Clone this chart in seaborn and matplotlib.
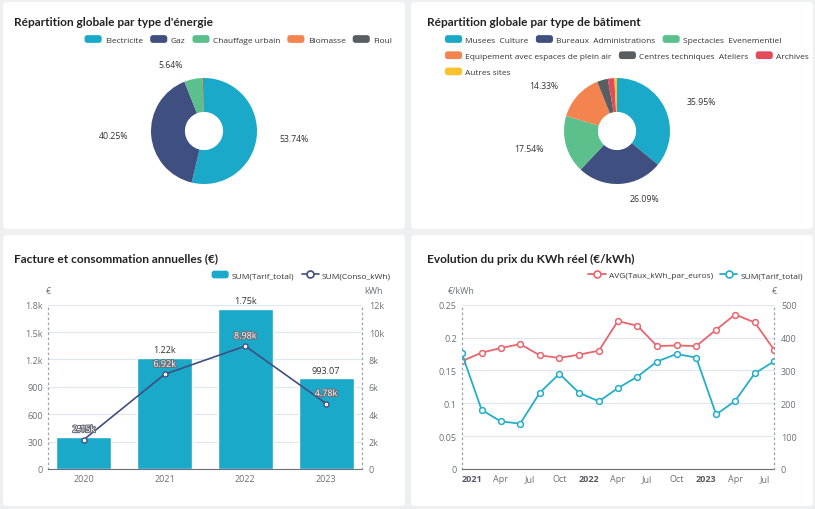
import numpy as np
import pandas as pd
import matplotlib
matplotlib.use("Agg")
import matplotlib.pyplot as plt
import matplotlib.dates as mdates
import matplotlib.patheffects as pe
from matplotlib.patches import FancyBboxPatch, Patch
from matplotlib.lines import Line2D
from matplotlib.legend_handler import HandlerPatch
from matplotlib.ticker import FixedLocator, FuncFormatter
import seaborn as sns

# ---------------- data ----------------
energy_labels = ["Electricite", "Gaz", "Chauffage urbain", "Biomasse", "Fioul"]
energy_pct = [53.74, 40.25, 5.64, 0.12, 0.25]
energy_colors = ["#1ba9c9", "#3f4f7f", "#5bc08b", "#f3844f", "#595e62"]

building_labels = ["Musees  Culture", "Bureaux  Administrations", "Spectacles  Evenementiel",
                   "Equipement avec espaces de plein air", "Centres techniques  Ateliers",
                   "Archives", "Autres sites"]
building_pct = [35.95, 26.09, 17.54, 14.33, 3.30, 2.00, 0.79]
building_colors = ["#1ba9c9", "#3f4f7f", "#5bc08b", "#f3844f", "#595e62", "#e24a5d", "#fbc22c"]

years = ["2020", "2021", "2022", "2023"]
tarif_year = [351, 1220, 1750, 993.07]
conso_year = [2150, 6920, 8980, 4780]
tarif_year_labels = ["351", "1.22k", "1.75k", "993.07"]
conso_year_labels = ["2.15k", "6.92k", "8.98k", "4.78k"]

months = ["2020-12-01", "2021-02-01", "2021-04-01", "2021-06-01", "2021-08-01", "2021-10-01",
          "2021-12-01", "2022-02-01", "2022-04-01", "2022-06-01", "2022-08-01", "2022-10-01",
          "2022-12-01", "2023-02-01", "2023-04-01", "2023-06-01", "2023-08-01"]
taux_kwh = [0.164, 0.177, 0.184, 0.190, 0.173, 0.169, 0.174, 0.180, 0.225, 0.218,
            0.187, 0.188, 0.187, 0.212, 0.235, 0.223, 0.181]
tarif_month = [353, 180, 145, 138, 232, 290, 232, 206, 246, 281, 327, 350, 339, 166, 207, 291, 328]

# ---------------- style ----------------
W, H = 815, 510
sns.set_theme(style="white")
plt.rcParams["font.family"] = ["Open Sans", "DejaVu Sans"]
TICK = "#6e7079"
GRID = "#e0e6f1"
TXT = "#333333"
TICK_FS = 6.5

fig = plt.figure(figsize=(W / 100, H / 100), dpi=100)
fig.patch.set_facecolor("#eeeff1")


def px_box(x0, y0, x1, y1):
    return [x0 / W, 1 - y1 / H, (x1 - x0) / W, (y1 - y0) / H]


def fx(x):
    return x / W


def fy(y):
    return 1 - y / H


# panels
for (x0, y0, x1, y1) in [(3, 3, 405, 230), (411, 3, 813, 230), (3, 236, 405, 507), (411, 236, 813, 507)]:
    fig.patches.append(FancyBboxPatch((x0 / 100, (H - y1) / 100), (x1 - x0) / 100, (y1 - y0) / 100,
                                      boxstyle="round,pad=0,rounding_size=0.04",
                                      transform=fig.dpi_scale_trans, facecolor="white",
                                      edgecolor="none", zorder=-5))

titles = [("Répartition globale par type d'énergie", 14, 22),
          ("Répartition globale par type de bâtiment", 427, 22),
          ("Facture et consommation annuelles (€)", 14, 259),
          ("Evolution du prix du KWh réel (€/kWh)", 427, 259)]
for t, x, y in titles:
    fig.text(fx(x), fy(y), t, fontsize=8.6, fontweight="bold", color="#222222", va="center", ha="left",
             family=["Lato", "DejaVu Sans"])


class RoundHandler(HandlerPatch):
    def create_artists(self, legend, orig_handle, xdescent, ydescent, width, height, fontsize, trans):
        p = FancyBboxPatch((-xdescent, -ydescent), width, height,
                           boxstyle="round,pad=0,rounding_size=%f" % (height * 0.35),
                           facecolor=orig_handle.get_facecolor(), edgecolor="none", transform=trans)
        return [p]


LEG_FS = 6.0


def row_legend(handles, labels, anchor, loc):
    leg = fig.legend(handles, labels, loc=loc, bbox_to_anchor=anchor, ncol=len(handles),
                     frameon=False, fontsize=LEG_FS, handlelength=2.05, handleheight=1.05,
                     handletextpad=0.4, columnspacing=0.85, borderpad=0, borderaxespad=0,
                     handler_map={Patch: RoundHandler()})
    for t in leg.get_texts():
        t.set_color(TXT)
    return leg


# ---------------- donuts ----------------
R_PX = 53


def donut(center, values, colors, labels_min=5):
    cx, cy = center
    half = 100
    ax = fig.add_axes(px_box(cx - half, cy - half, cx + half, cy + half))
    ax.pie(values, colors=colors, startangle=90, counterclock=False, radius=1,
           wedgeprops=dict(width=0.64, edgecolor="none", linewidth=0))
    lim = half / R_PX
    ax.set_xlim(-lim, lim)
    ax.set_ylim(-lim, lim)
    ax.set_aspect("equal")
    ax.axis("off")
    total = float(sum(values))
    cum = 0.0
    for v in values:
        mid = (cum + v / 2) / total * 2 * np.pi
        cum += v
        if v < labels_min:
            continue
        dx, dy = np.sin(mid), np.cos(mid)
        r = 1 + 15 / R_PX
        x, y = dx * r, dy * r
        ext = 8 / R_PX
        if dx >= 0:
            ax.text(x + ext, y, f"{v:.2f}%", ha="left", va="center", fontsize=6.3, color=TXT)
        else:
            ax.text(x - ext, y, f"{v:.2f}%", ha="right", va="center", fontsize=6.3, color=TXT)
    return ax


donut((204, 132), energy_pct, energy_colors)
donut((617, 132), building_pct, building_colors)

row_legend([Patch(facecolor=c) for c in energy_colors], energy_labels, (fx(392), fy(40.5)), "center right")
rows = [[0, 1, 2], [3, 4, 5], [6]]
for i, r in enumerate(rows):
    row_legend([Patch(facecolor=building_colors[k]) for k in r], [building_labels[k] for k in r],
               (fx(445), fy(40.5 + 16.2 * i)), "center left")


def style_axes(ax, ax2):
    for a in (ax, ax2):
        a.set_facecolor("none")
        for s in a.spines.values():
            s.set_visible(False)
    ax.spines["left"].set_visible(True)
    ax.spines["left"].set_linestyle((0, (1, 3)))
    ax.spines["left"].set_color("#9aa0a8")
    ax.spines["left"].set_linewidth(0.9)
    ax2.spines["right"].set_visible(True)
    ax2.spines["right"].set_linestyle((0, (1, 3)))
    ax2.spines["right"].set_color("#9aa0a8")
    ax2.spines["right"].set_linewidth(0.9)
    ax.spines["bottom"].set_visible(True)
    ax.spines["bottom"].set_color(TICK)
    ax.spines["bottom"].set_linewidth(0.8)
    ax.yaxis.grid(True, color=GRID, linewidth=0.8)
    ax.xaxis.grid(False)
    ax2.grid(False)
    ax.set_axisbelow(True)
    ax.tick_params(axis="y", length=0, pad=3.5, labelsize=TICK_FS, labelcolor=TICK)
    ax2.tick_params(axis="y", length=0, pad=4.8, labelsize=TICK_FS, labelcolor=TICK)
    ax.tick_params(axis="x", length=0, pad=3.8, labelsize=TICK_FS, labelcolor=TICK)
    ax.set_xlabel("")
    ax.set_ylabel("")
    ax2.set_xlabel("")
    ax2.set_ylabel("")


def kfmt(v, pos):
    if v >= 1000:
        s = f"{v / 1000:.1f}".rstrip("0").rstrip(".")
        return s + "k"
    return f"{v:g}"


# ---------------- bar + line ----------------
df_year = pd.DataFrame({"year": years, "tarif": tarif_year, "conso": conso_year})
axb = fig.add_axes(px_box(48, 305.7, 362, 470))
sns.barplot(data=df_year, x="year", y="tarif", color="#1ba9c9", saturation=1, width=0.68, ax=axb)
axb.set_ylim(0, 1800)
axb.set_xlim(-0.445, len(years) - 1 + 0.445)
axb.yaxis.set_major_locator(FixedLocator(np.arange(0, 1801, 300)))
axb.yaxis.set_major_formatter(FuncFormatter(kfmt))
axb2 = axb.twinx()
sns.lineplot(x=np.arange(len(years)), y=df_year["conso"], ax=axb2, color="#3f4f7f", linewidth=1.2,
             marker="o", markersize=3.6, markerfacecolor="white", markeredgecolor="#3f4f7f",
             markeredgewidth=1.0)
axb2.set_ylim(0, 12000)
axb2.yaxis.set_major_locator(FixedLocator(np.arange(0, 12001, 2000)))
axb2.yaxis.set_major_formatter(FuncFormatter(kfmt))
axb2.set_xlim(axb.get_xlim())
style_axes(axb, axb2)
for i, (v, lab) in enumerate(zip(tarif_year, tarif_year_labels)):
    axb.annotate(lab, (i, v), xytext=(0, 6), textcoords="offset points", ha="center", va="center",
                 fontsize=6.5, color=TXT)
for i, (v, lab) in enumerate(zip(conso_year, conso_year_labels)):
    axb2.annotate(lab, (i, v), xytext=(0, 7.2), textcoords="offset points", ha="center", va="center",
                  fontsize=6.5, color="white",
                  path_effects=[pe.withStroke(linewidth=1.6, foreground="#6b6f78")])
axb.annotate("€", (0, 1), xycoords="axes fraction", xytext=(0, 9.9), textcoords="offset points",
             ha="center", va="center", fontsize=TICK_FS, color=TICK)
axb2.annotate("kWh", (1, 1), xycoords="axes fraction", xytext=(8, 9.9), textcoords="offset points",
              ha="center", va="center", fontsize=TICK_FS, color=TICK)

bl_handles = [Patch(facecolor="#1ba9c9"),
              Line2D([], [], color="#3f4f7f", linewidth=1.2, marker="o", markersize=5,
                     markerfacecolor="white", markeredgecolor="#3f4f7f", markeredgewidth=1.2)]
row_legend(bl_handles, ["SUM(Tarif_total)", "SUM(Conso_kWh)"], (fx(391), fy(276)), "center right")

# ---------------- time series ----------------
df_m = pd.DataFrame({"date": pd.to_datetime(months), "taux": taux_kwh, "tarif": tarif_month})
RED = "#e8656d"
TEAL = "#24aec8"
axt = fig.add_axes(px_box(461.7, 305.7, 774.3, 470))
sns.lineplot(data=df_m, x="date", y="taux", ax=axt, color=RED, linewidth=1.3, marker="o",
             markersize=4.2, markerfacecolor="white", markeredgecolor=RED, markeredgewidth=1.1)
axt2 = axt.twinx()
sns.lineplot(data=df_m, x="date", y="tarif", ax=axt2, color=TEAL, linewidth=1.3, marker="o",
             markersize=4.2, markerfacecolor="white", markeredgecolor=TEAL, markeredgewidth=1.1)
x0, x1 = mdates.date2num(df_m["date"].min()), mdates.date2num(df_m["date"].max())
axt.set_xlim(x0, x1)
axt2.set_xlim(x0, x1)
axt.set_ylim(0, 0.25)
axt.yaxis.set_major_locator(FixedLocator(np.arange(0, 0.2501, 0.05)))
axt.yaxis.set_major_formatter(FuncFormatter(lambda v, p: f"{round(v, 2):g}"))
axt2.set_ylim(0, 500)
axt2.yaxis.set_major_locator(FixedLocator(np.arange(0, 501, 100)))
axt2.yaxis.set_major_formatter(FuncFormatter(lambda v, p: f"{v:g}"))
ticks = pd.date_range(df_m["date"].min(), df_m["date"].max(), freq="QS-JAN")
axt.set_xticks(mdates.date2num(ticks))
axt.set_xticklabels([str(d.year) if d.month == 1 else d.strftime("%b") for d in ticks])
style_axes(axt, axt2)
for d, t in zip(ticks, axt.get_xticklabels()):
    if d.month == 1:
        t.set_fontweight("bold")
        t.set_color("#555a63")
axt.annotate("€/kWh", (0, 1), xycoords="axes fraction", xytext=(0, 9.9), textcoords="offset points",
             ha="center", va="center", fontsize=TICK_FS, color=TICK)
axt2.annotate("€", (1, 1), xycoords="axes fraction", xytext=(0, 9.9), textcoords="offset points",
              ha="center", va="center", fontsize=TICK_FS, color=TICK)

br_handles = [Line2D([], [], color=RED, linewidth=1.3, marker="o", markersize=5,
                     markerfacecolor="white", markeredgecolor=RED, markeredgewidth=1.2),
              Line2D([], [], color=TEAL, linewidth=1.3, marker="o", markersize=5,
                     markerfacecolor="white", markeredgecolor=TEAL, markeredgewidth=1.2)]
row_legend(br_handles, ["AVG(Taux_kWh_par_euros)", "SUM(Tarif_total)"], (fx(803), fy(276)), "center right")

fig.savefig("out.png", dpi=100, facecolor=fig.get_facecolor())
